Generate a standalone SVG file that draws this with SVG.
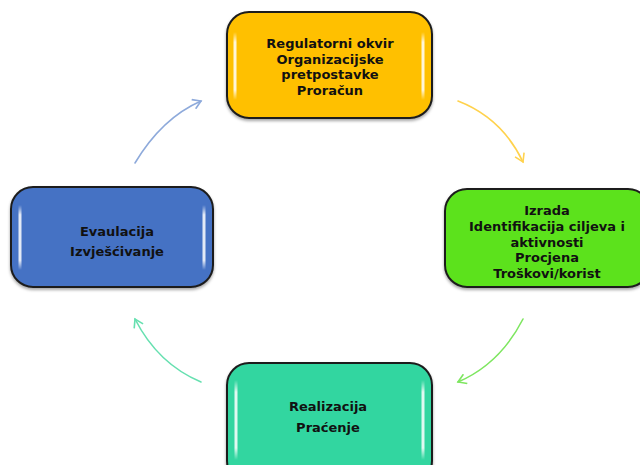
<svg xmlns="http://www.w3.org/2000/svg" width="640" height="465" viewBox="0 0 640 465">
<defs>
<style>
.box{stroke:#1e1e1e;stroke-width:2}
.t{font-family:"DejaVu Sans",Verdana,sans-serif;font-weight:bold;font-size:13px;fill:#111;text-anchor:middle}
.hl{stroke:url(#hg);stroke-width:3;stroke-linecap:round;fill:none}
.c{fill:none;stroke-width:1.6;stroke-linecap:round}
</style>
<linearGradient id="hg" x1="0" y1="0" x2="0" y2="1">
<stop offset="0" stop-color="#fff" stop-opacity="0"/>
<stop offset="0.15" stop-color="#fff" stop-opacity="0.85"/>
<stop offset="0.85" stop-color="#fff" stop-opacity="0.85"/>
<stop offset="1" stop-color="#fff" stop-opacity="0"/>
</linearGradient>
<filter id="sh" x="-10%" y="-10%" width="120%" height="130%">
<feDropShadow dx="0" dy="2" stdDeviation="1.5" flood-color="#000" flood-opacity="0.35"/>
</filter>
<marker id="mb" markerWidth="12" markerHeight="12" refX="9" refY="6" orient="auto" markerUnits="userSpaceOnUse"><path d="M1,1 L9,6 L1,11" fill="none" stroke="#8eaadb" stroke-width="1.6"/></marker>
<marker id="my" markerWidth="12" markerHeight="12" refX="9" refY="6" orient="auto" markerUnits="userSpaceOnUse"><path d="M1,1 L9,6 L1,11" fill="none" stroke="#ffd24d" stroke-width="1.6"/></marker>
<marker id="mg" markerWidth="12" markerHeight="12" refX="9" refY="6" orient="auto" markerUnits="userSpaceOnUse"><path d="M1,1 L9,6 L1,11" fill="none" stroke="#7ee660" stroke-width="1.6"/></marker>
<marker id="mt" markerWidth="12" markerHeight="12" refX="9" refY="6" orient="auto" markerUnits="userSpaceOnUse"><path d="M1,1 L9,6 L1,11" fill="none" stroke="#66e0b0" stroke-width="1.6"/></marker>
</defs>
<rect width="640" height="465" fill="#fff"/>
<g id="connectors">
<path class="c" stroke="#8eaadb" d="M135,163 Q162,118 201,101" marker-end="url(#mb)"/>
<path class="c" stroke="#ffd24d" d="M458,101 Q502,118 523,162" marker-end="url(#my)"/>
<path class="c" stroke="#7ee660" d="M523,319 Q500,364 458,382" marker-end="url(#mg)"/>
<path class="c" stroke="#66e0b0" d="M201,382 Q158,364 135,319" marker-end="url(#mt)"/>
</g>
<g id="node-top">
<rect class="box" x="227" y="12" width="205" height="106" rx="22" fill="#ffc000" filter="url(#sh)"/>
<path class="hl" d="M235,32 V100 M423,32 V100"/>
<text class="t" x="330" y="48">Regulatorni okvir</text>
<text class="t" x="330" y="63.5">Organizacijske</text>
<text class="t" x="330" y="79">pretpostavke</text>
<text class="t" x="330" y="94.5">Proračun</text>
</g>
<g id="node-right">
<rect class="box" x="445" y="189" width="205" height="98" rx="22" fill="#5ce21c" filter="url(#sh)"/>
<path class="hl" d="M453,208 V270"/>
<text class="t" x="547" y="215">Izrada</text>
<text class="t" x="547" y="231">Identifikacija ciljeva i</text>
<text class="t" x="547" y="247">aktivnosti</text>
<text class="t" x="547" y="262">Procjena</text>
<text class="t" x="547" y="278">Troškovi/korist</text>
</g>
<g id="node-left">
<rect class="box" x="11" y="187" width="202" height="100" rx="22" fill="#4472c4" filter="url(#sh)"/>
<path class="hl" d="M20,205 V270 M204,205 V270"/>
<text class="t" x="117" y="236">Evaulacija</text>
<text class="t" x="117" y="256">Izvješćivanje</text>
</g>
<g id="node-bottom">
<rect class="box" x="227" y="363" width="205" height="120" rx="22" fill="#31d6a0" filter="url(#sh)"/>
<path class="hl" d="M236,380 V460 M423,380 V460"/>
<text class="t" x="328" y="411">Realizacija</text>
<text class="t" x="328" y="432">Praćenje</text>
</g>
</svg>
